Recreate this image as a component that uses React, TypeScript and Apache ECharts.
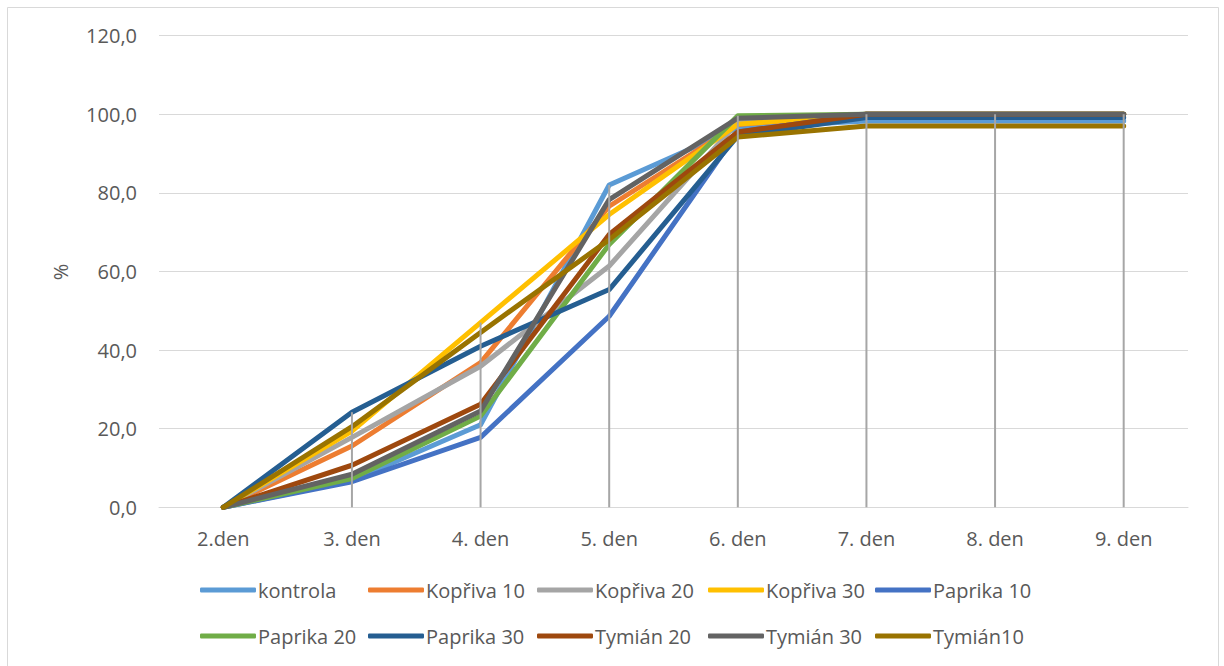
import React, { useEffect, useRef } from "react";
import * as echarts from "echarts";

const categories = ["2.den", "3. den", "4. den", "5. den", "6. den", "7. den", "8. den", "9. den"];

const kontrola = [0, 6.8, 21.0, 82.0, 96.6, 98.3, 98.3, 98.3];
const kopriva10 = [0, 15.6, 36.8, 76.6, 97.4, 100, 100, 100];
const kopriva20 = [0, 17.8, 35.9, 61.4, 98.0, 100, 100, 100];
const kopriva30 = [0, 19.4, 47.0, 74.5, 97.5, 100, 100, 100];
const paprika10 = [0, 6.5, 17.8, 48.6, 95.5, 100, 100, 100];
const paprika20 = [0, 7.3, 23.2, 66.9, 99.6, 100, 100, 100];
const paprika30 = [0, 24.2, 41.0, 55.4, 94.5, 99.2, 99.2, 99.2];
const tymian20 = [0, 10.7, 26.2, 69.4, 95.5, 100, 100, 100];
const tymian30 = [0, 8.4, 24.5, 78.3, 99.0, 100, 100, 100];
const tymian10 = [0, 20.5, 44.5, 68.1, 94.2, 97.0, 97.0, 97.0];

const seriesNames = [
  "kontrola", "Kopřiva 10", "Kopřiva 20", "Kopřiva 30", "Paprika 10",
  "Paprika 20", "Paprika 30", "Tymián 20", "Tymián 30", "Tymián10",
];
const seriesData = [
  kontrola, kopriva10, kopriva20, kopriva30, paprika10,
  paprika20, paprika30, tymian20, tymian30, tymian10,
];
const colors = [
  "#5B9BD5", "#ED7D31", "#A5A5A5", "#FFC000", "#4472C4",
  "#70AD47", "#255E91", "#9E480E", "#636363", "#997300",
];

const yTicks = { min: 0, max: 120, interval: 20 };

export default function App() {
  const ref = useRef<HTMLDivElement>(null);
  useEffect(() => {
    if (!ref.current) return;
    const chart = echarts.init(ref.current, null, { renderer: "svg" });
    const font = "'Open Sans', 'Noto Sans', sans-serif";
    const dropMax = categories.map((_, i) => Math.max(...seriesData.map((s) => s[i])));
    const colX = [200, 368, 537, 708, 875];
    const rowTop = [575, 621];
    const legends = seriesNames.map((name, i) => ({
      orient: "horizontal",
      icon: "roundRect",
      itemWidth: 56,
      itemHeight: 5,
      itemGap: 0,
      left: colX[i % 5] - 5,
      top: rowTop[Math.floor(i / 5)],
      data: [name],
      textStyle: { color: "#595959", fontSize: 20, fontFamily: font, padding: [0, 0, 0, -3] },
    }));
    chart.setOption({
      animation: false,
      backgroundColor: "#ffffff",
      textStyle: { fontFamily: font },
      grid: { left: 159, right: 36, top: 35.7, bottom: 158.7, containLabel: false },
      legend: legends,
      xAxis: {
        type: "category",
        data: categories,
        boundaryGap: true,
        axisLine: { lineStyle: { color: "#D9D9D9", width: 1 } },
        axisTick: { show: false },
        axisLabel: { color: "#595959", fontSize: 20, fontFamily: font, margin: 21 },
        splitLine: { show: false },
      },
      yAxis: {
        type: "value",
        min: yTicks.min,
        max: yTicks.max,
        interval: yTicks.interval,
        axisLine: { show: false },
        axisTick: { show: false },
        axisLabel: {
          color: "#595959",
          fontSize: 20,
          fontFamily: font,
          margin: 22,
          formatter: (v: number) => v.toFixed(1).replace(".", ","),
        },
        splitLine: { lineStyle: { color: "#D9D9D9", width: 1 } },
      },
      series: [
        ...seriesNames.map((name, i) => ({
          name,
          type: "line",
          data: seriesData[i],
          symbol: "none",
          color: colors[i],
          itemStyle: { color: colors[i] },
          lineStyle: { color: colors[i], width: 5, cap: "round", join: "round" },
          z: 2,
        })),
        {
          name: "drop",
          type: "bar",
          data: dropMax,
          barWidth: 2,
          itemStyle: { color: "#A6A6A6" },
          z: 3,
          silent: true,
        },
      ],
      graphic: [
        {
          type: "rect",
          shape: { x: 7.5, y: 7.5, width: 1211, height: 670 },
          style: { fill: "none", stroke: "#D9D9D9", lineWidth: 1 },
          silent: true,
        },
        {
          type: "text",
          x: 60,
          y: 272,
          rotation: Math.PI / 2,
          style: {
            text: "%",
            fill: "#595959",
            fontSize: 20,
            fontFamily: font,
            align: "center",
            verticalAlign: "middle",
          },
        },
      ],
    });
    return () => chart.dispose();
  }, []);
  return (
    <div
      ref={ref}
      style={{ position: "absolute", left: 0, top: 0, width: 1224, height: 666 }}
    />
  );
}
